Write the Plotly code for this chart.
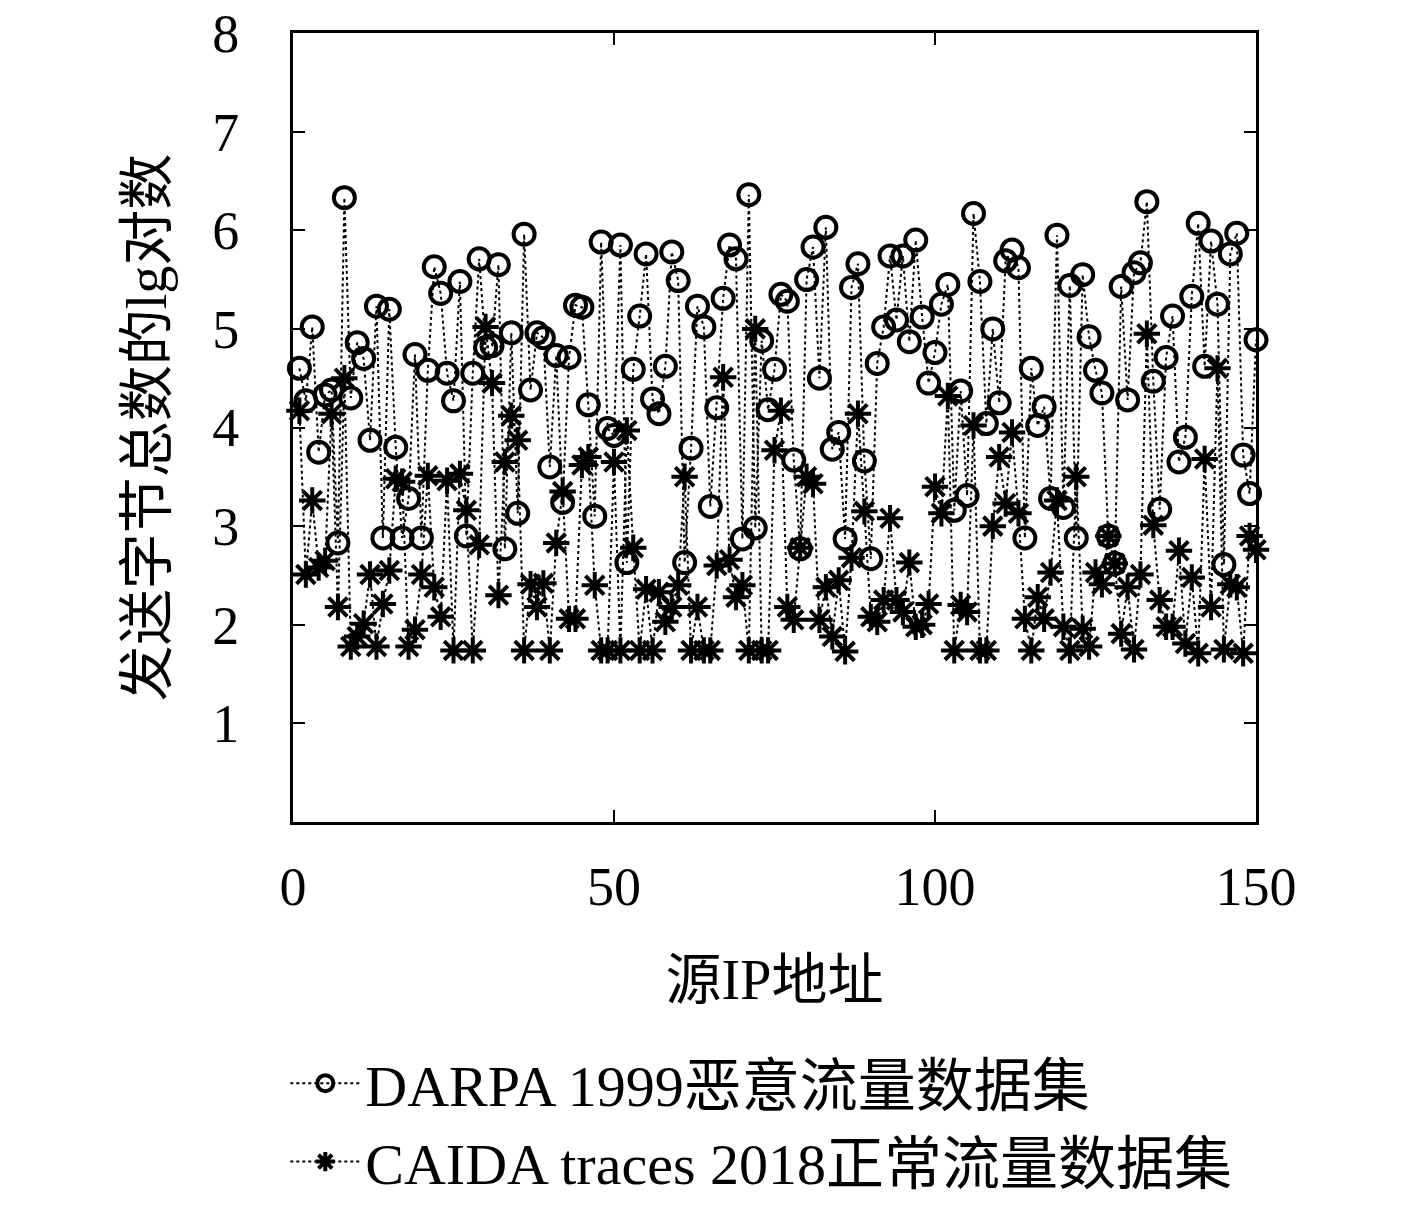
import plotly.graph_objects as go

# source IP index
ip_index = list(range(1, 151))

# DARPA 1999 malicious traffic, lg(total bytes sent)
darpa_1999 = [
    4.60, 4.27, 5.02, 3.75, 4.33, 4.38, 2.83, 6.33, 4.30, 4.86,
    4.70, 3.87, 5.23, 2.88, 5.20, 3.80, 2.88, 3.28, 4.74, 2.88,
    4.58, 5.63, 5.36, 4.55, 4.27, 5.48, 2.90, 4.55, 5.71, 4.81,
    4.83, 5.65, 2.77, 4.96, 3.13, 5.96, 4.38, 4.96, 4.91, 3.60,
    4.73, 3.24, 4.71, 5.24, 5.22, 4.23, 3.10, 5.88, 3.99, 3.92,
    5.85, 2.63, 4.59, 5.13, 5.76, 4.29, 4.14, 4.62, 5.78, 5.49,
    2.63, 3.79, 5.23, 5.02, 3.20, 4.20, 5.31, 5.85, 5.71, 2.87,
    6.36, 2.98, 4.88, 4.18, 4.59, 5.35, 5.28, 3.67, 2.77, 5.50,
    5.83, 4.50, 6.03, 3.78, 3.95, 2.87, 5.42, 5.66, 3.66, 2.67,
    4.65, 5.02, 5.74, 5.09, 5.74, 4.87, 5.90, 5.12, 4.45, 4.76,
    5.25, 5.45, 3.16, 4.37, 3.31, 6.17, 5.48, 4.04, 5.00, 4.25,
    5.69, 5.80, 5.62, 2.88, 4.60, 4.02, 4.21, 3.28, 5.95, 3.19,
    5.44, 2.88, 5.55, 4.92, 4.58, 4.35, 2.90, 2.62, 5.43, 4.28,
    5.57, 5.67, 6.29, 4.47, 3.17, 4.71, 5.13, 3.65, 3.90, 5.33,
    6.07, 4.62, 5.89, 5.25, 2.61, 5.76, 5.97, 3.72, 3.33, 4.89,
]

# CAIDA traces 2018 normal traffic, lg(total bytes sent)
caida_2018 = [
    4.17, 2.51, 3.26, 2.58, 2.65, 4.14, 2.18, 4.50, 1.78, 1.88,
    2.01, 2.51, 1.78, 2.21, 2.55, 3.48, 3.45, 1.78, 1.95, 2.51,
    3.51, 2.38, 2.08, 3.46, 1.74, 3.53, 3.16, 1.74, 2.81, 5.02,
    4.45, 2.30, 3.65, 4.12, 3.87, 1.74, 2.41, 2.18, 2.42, 1.74,
    2.83, 3.35, 2.06, 2.06, 3.62, 3.70, 2.40, 1.74, 1.74, 3.65,
    1.74, 3.97, 2.78, 1.74, 2.36, 1.74, 2.33, 2.03, 2.18, 2.40,
    3.50, 1.74, 2.18, 1.74, 1.74, 2.60, 4.51, 2.66, 2.28, 2.40,
    1.74, 5.00, 1.74, 1.74, 3.77, 4.17, 2.18, 2.05, 2.78, 3.50,
    3.43, 2.05, 2.38, 1.88, 2.45, 1.73, 2.68, 4.14, 3.15, 2.08,
    2.03, 2.25, 3.08, 2.25, 2.13, 2.63, 1.98, 2.00, 2.21, 3.40,
    3.13, 4.32, 1.74, 2.20, 2.13, 4.02, 1.74, 1.74, 3.00, 3.70,
    3.23, 3.95, 3.13, 2.06, 1.74, 2.28, 2.06, 2.53, 3.26, 1.98,
    1.74, 3.50, 1.96, 1.78, 2.53, 2.41, 2.90, 2.62, 1.91, 2.38,
    1.75, 2.51, 4.95, 3.01, 2.25, 1.98, 1.98, 2.75, 1.81, 2.48,
    1.71, 3.68, 2.18, 4.60, 1.75, 2.41, 2.38, 1.71, 2.90, 2.76,
]

font_family = "Liberation Serif, Noto Sans CJK SC"

fig = go.Figure()

fig.add_trace(go.Scatter(
    x=ip_index, y=darpa_1999, mode="lines+markers",
    name="DARPA 1999恶意流量数据集",
    line=dict(color="black", width=2, dash="dot"),
    marker=dict(symbol="circle-open", size=21, color="black", line=dict(width=4)),
    cliponaxis=False,
))

fig.add_trace(go.Scatter(
    x=ip_index, y=caida_2018, mode="lines+markers",
    name="CAIDA traces 2018正常流量数据集",
    line=dict(color="black", width=2, dash="dot"),
    marker=dict(symbol="asterisk-open", size=22, color="black", line=dict(width=4)),
    cliponaxis=False,
))

fig.update_layout(
    width=1417, height=1205,
    margin=dict(l=285, r=169, t=25, b=391, autoexpand=False),
    paper_bgcolor="white", plot_bgcolor="white",
    font=dict(family=font_family, size=54, color="black"),
    showlegend=True,
    legend=dict(
        x=-0.008, y=-0.275, xanchor="left", yanchor="top",
        orientation="v", font=dict(size=58),
        bgcolor="rgba(0,0,0,0)", itemwidth=70, tracegroupgap=0,
    ),
)

fig.update_xaxes(
    range=[0, 150], tickvals=[0, 50, 100, 150],
    showline=True, linecolor="black", linewidth=3, mirror="ticks",
    ticks="inside", ticklen=12, tickwidth=2, tickcolor="black",
    showgrid=False, zeroline=False, automargin=False,
    ticklabelstandoff=15,
    title=dict(text="源IP地址", font=dict(size=56), standoff=45),
)

fig.update_yaxes(
    range=[0, 8], tickvals=[1, 2, 3, 4, 5, 6, 7, 8],
    showline=True, linecolor="black", linewidth=3, mirror="ticks",
    ticks="inside", ticklen=12, tickwidth=2, tickcolor="black",
    showgrid=False, zeroline=False, automargin=False,
    ticklabelstandoff=40, ticklabeloverflow="allow",
    title=dict(text="发送字节总数的lg对数", font=dict(size=56), standoff=28),
)

fig.write_html("out.html")
